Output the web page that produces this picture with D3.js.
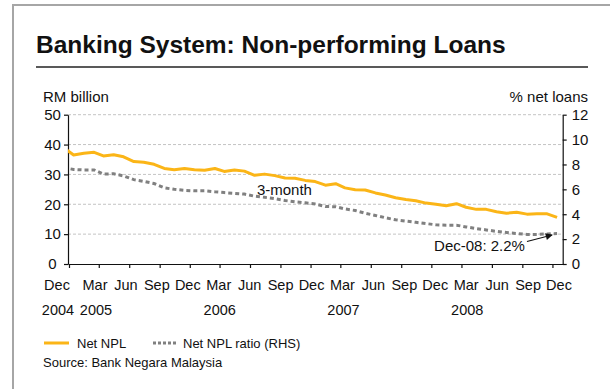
<!DOCTYPE html>
<html>
<head>
<meta charset="utf-8">
<script src="https://cdn.jsdelivr.net/npm/d3@7"></script>
<style>
  body { margin: 0; background: #fff; }
  text { font-family: "Liberation Sans", Arial, sans-serif; fill: #111; }
</style>
</head>
<body>
<div id="chart"></div>
<script>
// monthly observations (mid-month), Nov 2004 .. Dec 2008
var months = [
  "2004-11", "2004-12",
  "2005-01", "2005-02", "2005-03", "2005-04", "2005-05", "2005-06", "2005-07", "2005-08", "2005-09", "2005-10", "2005-11", "2005-12",
  "2006-01", "2006-02", "2006-03", "2006-04", "2006-05", "2006-06", "2006-07", "2006-08", "2006-09", "2006-10", "2006-11", "2006-12",
  "2007-01", "2007-02", "2007-03", "2007-04", "2007-05", "2007-06", "2007-07", "2007-08", "2007-09", "2007-10", "2007-11", "2007-12",
  "2008-01", "2008-02", "2008-03", "2008-04", "2008-05", "2008-06", "2008-07", "2008-08", "2008-09", "2008-10", "2008-11", "2008-12"
];
// Net NPL, RM billion (LHS)
var netNPL = [
  39.0, 36.5,
  37.1, 37.4, 36.2, 36.6, 35.9, 34.3, 34.1, 33.4, 32.0, 31.6, 32.0, 31.6,
  31.4, 32.0, 31.0, 31.5, 31.1, 29.7, 30.1, 29.6, 28.8, 28.7, 28.0, 27.6,
  26.4, 26.9, 25.5, 24.9, 24.8, 23.8, 23.1, 22.2, 21.6, 21.2, 20.4, 20.0,
  19.5, 20.2, 19.0, 18.3, 18.3, 17.5, 17.0, 17.3, 16.7, 16.8, 16.8, 15.6
];
// Net NPL ratio, % net loans (RHS)
var nplRatio = [
  7.75, 7.6,
  7.56, 7.56, 7.23, 7.25, 7.08, 6.78, 6.64, 6.47, 6.12, 6.0, 5.92, 5.88,
  5.89, 5.8, 5.74, 5.68, 5.62, 5.45, 5.36, 5.25, 5.1, 5.0, 4.92, 4.82,
  4.62, 4.6, 4.43, 4.3, 4.08, 3.9, 3.72, 3.55, 3.45, 3.35, 3.25, 3.15,
  3.12, 3.12, 2.98, 2.85, 2.74, 2.62, 2.53, 2.45, 2.38, 2.38, 2.42, 2.45
];
var monthLabels = ["Dec", "Mar", "Jun", "Sep", "Dec", "Mar", "Jun", "Sep", "Dec", "Mar", "Jun", "Sep", "Dec", "Mar", "Jun", "Sep", "Dec"];
var yearLabels = ["2004", "2005", "", "", "", "2006", "", "", "", "2007", "", "", "", "2008", "", "", ""];
var leftTicks = [0, 10, 20, 30, 40, 50];
var rightTicks = [0, 2, 4, 6, 8, 10, 12];

var parseMonth = d3.timeParse("%Y-%m-%d");
var data = months.map(function (m, i) {
  return { date: parseMonth(m + "-15"), npl: netNPL[i], ratio: nplRatio[i] };
});

var width = 610, height = 389;
var plot = { left: 68, right: 562.7, top: 114.7, bottom: 264 };

var svg = d3.select("#chart").append("svg")
  .attr("width", width)
  .attr("height", height);

// outer frame
svg.append("rect")
  .attr("x", 13).attr("y", 5)
  .attr("width", 700).attr("height", 500)
  .attr("fill", "none")
  .attr("stroke", "#a6a6a6")
  .attr("stroke-width", 2);

svg.append("text")
  .attr("x", 36).attr("y", 53)
  .style("font-size", "24.5px")
  .style("font-weight", "bold")
  .text("Banking System: Non-performing Loans");

svg.append("line")
  .attr("x1", 36).attr("x2", 588)
  .attr("y1", 67).attr("y2", 67)
  .attr("stroke", "#222")
  .attr("stroke-width", 1.5);

svg.append("text").attr("x", 43).attr("y", 102).style("font-size", "15px").text("RM billion");
svg.append("text").attr("x", 588).attr("y", 102).attr("text-anchor", "end").style("font-size", "15px").text("% net loans");

var x = d3.scaleTime()
  .domain([new Date(2004, 10, 28), new Date(2009, 0, 1)])
  .range([plot.left, plot.right]);
var yL = d3.scaleLinear().domain([0, 50]).range([plot.bottom, plot.top]);
var yR = d3.scaleLinear().domain([0, 12]).range([plot.bottom, plot.top]);

// gridlines
svg.append("g").selectAll("line")
  .data(leftTicks.filter(function (d) { return d > 0; }))
  .enter().append("line")
  .attr("x1", plot.left).attr("x2", plot.right)
  .attr("y1", function (d) { return yL(d); })
  .attr("y2", function (d) { return yL(d); })
  .attr("stroke", "#c4c4c4")
  .attr("stroke-dasharray", "3,2");

// axes
var gL = svg.append("g")
  .attr("transform", "translate(" + plot.left + ",0)")
  .call(d3.axisLeft(yL).tickValues(leftTicks).tickSize(4).tickSizeOuter(0));
gL.selectAll("text").attr("x", -15.5).attr("text-anchor", "middle").style("font-size", "15px");

var gR = svg.append("g")
  .attr("transform", "translate(" + plot.right + ",0)")
  .call(d3.axisRight(yR).tickValues(rightTicks).tickSize(4).tickPadding(5).tickSizeOuter(0));
gR.selectAll("text").style("font-size", "15px");

// quarterly ticks Dec 2004 .. Dec 2008
var firstTick = new Date(2004, 11, 1);
var quarterTicks = monthLabels.map(function (d, i) { return d3.timeMonth.offset(firstTick, 3 * i); });
svg.append("g")
  .attr("transform", "translate(0," + plot.bottom + ")")
  .call(d3.axisBottom(x).tickValues(quarterTicks).tickSize(4).tickSizeOuter(0).tickFormat(""));

svg.selectAll(".domain, .tick line").attr("stroke", "#111").attr("stroke-width", 1.2);
svg.selectAll(".tick text").attr("fill", "#111").style("font-family", "\"Liberation Sans\", Arial, sans-serif");

// category labels: evenly spread text row, first label set apart as in the original
var lx = d3.scaleLinear().domain([1, monthLabels.length - 1]).range([95, 559]);
function labelX(i) { return i === 0 ? 57 : lx(i); }
svg.append("g").selectAll("text")
  .data(monthLabels).enter().append("text")
  .attr("x", function (d, i) { return labelX(i); })
  .attr("y", 290)
  .attr("text-anchor", "middle")
  .style("font-size", "14.5px")
  .text(function (d) { return d; });
svg.append("g").selectAll("text")
  .data(yearLabels).enter().append("text")
  .attr("x", function (d, i) { return labelX(i) + 1; })
  .attr("y", 315)
  .attr("text-anchor", "middle")
  .style("font-size", "14.5px")
  .text(function (d) { return d; });

// series
svg.append("clipPath").attr("id", "clip")
  .append("rect")
  .attr("x", plot.left).attr("y", plot.top - 5)
  .attr("width", plot.right - plot.left).attr("height", plot.bottom - plot.top + 5);

var lineNPL = d3.line().x(function (d) { return x(d.date); }).y(function (d) { return yL(d.npl); });
var lineRatio = d3.line().x(function (d) { return x(d.date); }).y(function (d) { return yR(d.ratio); });

var series = svg.append("g").attr("clip-path", "url(#clip)");
series.append("path")
  .datum(data)
  .attr("d", lineRatio)
  .attr("fill", "none")
  .attr("stroke", "#808080")
  .attr("stroke-width", 3)
  .attr("stroke-dasharray", "4,3");
series.append("path")
  .datum(data)
  .attr("d", lineNPL)
  .attr("fill", "none")
  .attr("stroke", "#fbb517")
  .attr("stroke-width", 3)
  .attr("stroke-linejoin", "round");

// annotations
svg.append("text")
  .attr("x", x(new Date(2006, 5, 22)))
  .attr("y", yL(23))
  .style("font-size", "15px")
  .text("3-month");

svg.append("text")
  .attr("x", x(new Date(2008, 8, 9)))
  .attr("y", yR(1.07))
  .attr("text-anchor", "end")
  .style("font-size", "15px")
  .text("Dec-08: 2.2%");

svg.append("defs").append("marker")
  .attr("id", "arrow")
  .attr("viewBox", "0 0 10 10")
  .attr("refX", 9).attr("refY", 5)
  .attr("markerWidth", 9).attr("markerHeight", 7)
  .attr("orient", "auto")
  .attr("markerUnits", "userSpaceOnUse")
  .append("path")
  .attr("d", "M0,0 L10,5 L0,10 z")
  .attr("fill", "#111");

svg.append("line")
  .attr("x1", x(new Date(2008, 8, 15))).attr("y1", yR(1.81))
  .attr("x2", x(new Date(2008, 10, 30))).attr("y2", yR(2.33))
  .attr("stroke", "#111")
  .attr("stroke-width", 1.2)
  .attr("marker-end", "url(#arrow)");

// legend
var legend = svg.append("g");
legend.append("line")
  .attr("x1", 44).attr("x2", 69).attr("y1", 343).attr("y2", 343)
  .attr("stroke", "#fbb517").attr("stroke-width", 3);
legend.append("text").attr("x", 77).attr("y", 347.5).style("font-size", "13px").text("Net NPL");
legend.append("line")
  .attr("x1", 153).attr("x2", 178).attr("y1", 343).attr("y2", 343)
  .attr("stroke", "#808080").attr("stroke-width", 3).attr("stroke-dasharray", "3,2");
legend.append("text").attr("x", 183).attr("y", 347.5).style("font-size", "13px").text("Net NPL ratio (RHS)");

svg.append("text").attr("x", 43).attr("y", 367).style("font-size", "13px").text("Source: Bank Negara Malaysia");
</script>
</body>
</html>
